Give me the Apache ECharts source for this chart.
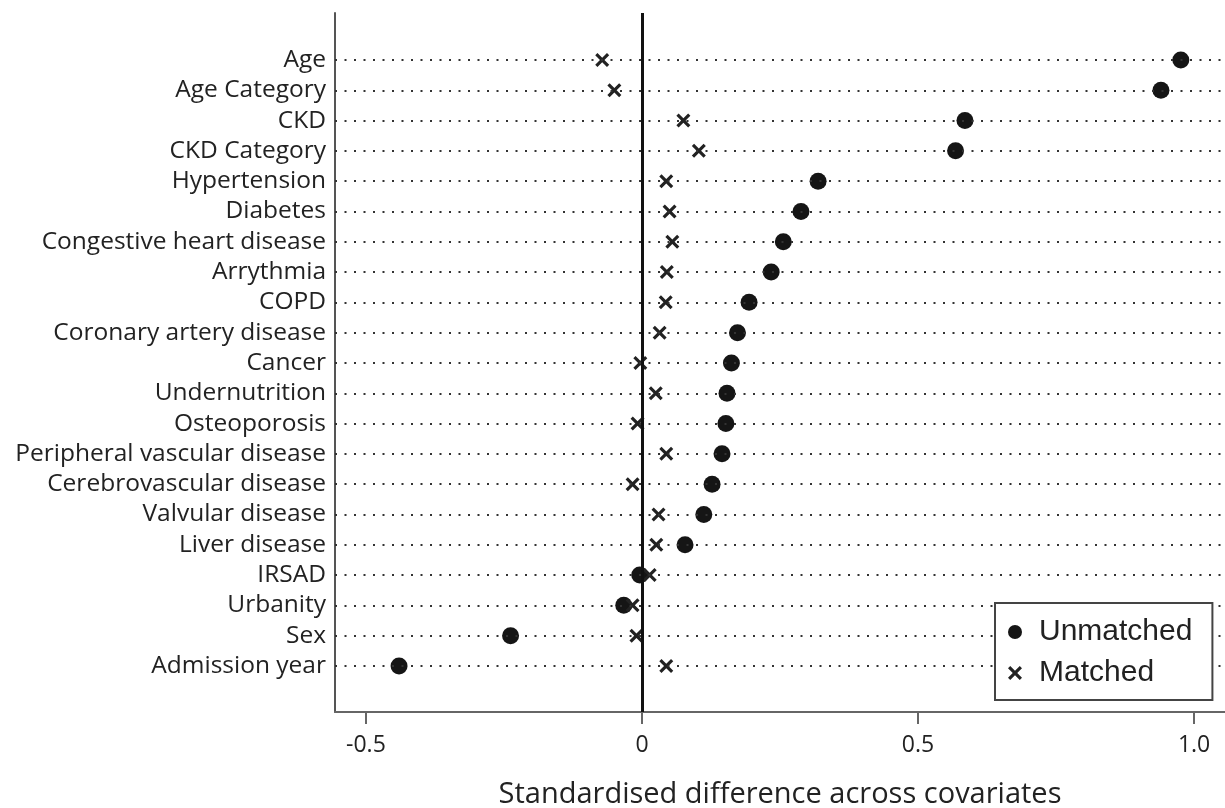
<!DOCTYPE html>
<html lang="en">
<head>
    <meta charset="UTF-8">
    <title>Standardised difference across covariates</title>
    <script src="https://cdn.jsdelivr.net/npm/echarts@6/dist/echarts.min.js"></script>
</head>
<body style="height: 100%; margin: 0; background: #fff">
<div id="chart" style="width: 1225px; height: 808px"></div>
<script>
    // covariates, top to bottom
    let covariates = ['Age', 'Age Category', 'CKD', 'CKD Category', 'Hypertension', 'Diabetes',
        'Congestive heart disease', 'Arrythmia', 'COPD', 'Coronary artery disease', 'Cancer',
        'Undernutrition', 'Osteoporosis', 'Peripheral vascular disease', 'Cerebrovascular disease',
        'Valvular disease', 'Liver disease', 'IRSAD', 'Urbanity', 'Sex', 'Admission year'];

    let unmatched = [0.976, 0.940, 0.585, 0.568, 0.319, 0.288, 0.256, 0.234, 0.194, 0.173, 0.162,
        0.154, 0.152, 0.145, 0.127, 0.112, 0.078, -0.004, -0.033, -0.238, -0.440];

    let matched = [-0.072, -0.050, 0.075, 0.103, 0.044, 0.050, 0.055, 0.045, 0.043, 0.032, -0.003,
        0.025, -0.008, 0.044, -0.017, 0.030, 0.026, 0.014, -0.017, -0.010, 0.044];

    let xTicks = [-0.5, 0, 0.5, 1.0];
    let xTickText = ['-0.5', '0', '0.5', '1.0'];

    // filled "x" shape
    let crossPath = 'path://M0,1.6 L1.6,0 L5,3.4 L8.4,0 L10,1.6 L6.6,5 L10,8.4 L8.4,10 L5,6.6 L1.6,10 L0,8.4 L3.4,5 Z';

    let rowIdx = covariates.map(function (d, i) { return i; });

    let chart = echarts.init(document.getElementById('chart'));

    let option = {
        animation: false,
        grid: {left: 335, right: 0, top: 13, bottom: 96, outerBoundsMode: 'none'},
        legend: {
            orient: 'vertical',
            left: 995,
            top: 603,
            z: 20,
            padding: [14, 20, 12, 13],
            itemGap: 11,
            itemWidth: 14,
            itemHeight: 14,
            borderColor: '#444',
            borderWidth: 2,
            backgroundColor: '#fff',
            textStyle: {fontFamily: 'Liberation Sans', fontSize: 30, color: '#222', padding: [0, 0, 0, 12]},
            data: [
                {name: 'Unmatched', icon: 'circle'},
                {name: 'Matched', icon: crossPath}
            ]
        },
        xAxis: {
            type: 'value',
            min: -0.556,
            max: 1.056,
            name: 'Standardised difference across covariates',
            nameLocation: 'middle',
            nameGap: 68,
            nameTextStyle: {fontFamily: 'Open Sans', fontSize: 29, color: '#222'},
            axisLine: {onZero: false, lineStyle: {color: '#666', width: 2}},
            axisTick: {show: true, customValues: xTicks, length: 12, lineStyle: {color: '#666', width: 2}},
            axisLabel: {
                customValues: xTicks,
                margin: 22,
                fontFamily: 'Open Sans',
                fontSize: 23,
                color: '#222',
                formatter: function (v) {
                    let k = xTicks.indexOf(v);
                    return k >= 0 ? xTickText[k] : '';
                }
            },
            splitLine: {show: false}
        },
        yAxis: {
            type: 'value',
            inverse: true,
            min: -1.55,
            max: 21.52,
            axisLine: {show: true, onZero: false, lineStyle: {color: '#555', width: 2}},
            axisTick: {show: false},
            axisLabel: {
                customValues: rowIdx,
                margin: 9,
                fontFamily: 'Open Sans',
                fontSize: 24.5,
                color: '#222',
                formatter: function (v) {
                    return covariates[Math.round(v)];
                }
            },
            splitLine: {show: false}
        },
        series: [
            {
                name: 'Guides',
                type: 'line',
                data: [],
                silent: true,
                markLine: {
                    silent: true,
                    symbol: 'none',
                    label: {show: false},
                    lineStyle: {color: '#333', width: 2, type: [2, 7.5]},
                    data: rowIdx.map(function (i) { return {yAxis: i}; })
                        .concat([{xAxis: 0, lineStyle: {color: '#111', width: 3, type: 'solid'}}])
                }
            },
            {
                name: 'Unmatched',
                type: 'scatter',
                symbol: 'circle',
                symbolSize: 17,
                itemStyle: {color: '#151515', opacity: 1},
                data: unmatched.map(function (v, i) { return [v, i]; }),
                z: 3
            },
            {
                name: 'Matched',
                type: 'scatter',
                symbol: crossPath,
                symbolSize: 14,
                itemStyle: {color: '#222', opacity: 1},
                data: matched.map(function (v, i) { return [v, i]; }),
                z: 4
            }
        ]
    };
    chart.setOption(option);
</script>
</body>
</html>
